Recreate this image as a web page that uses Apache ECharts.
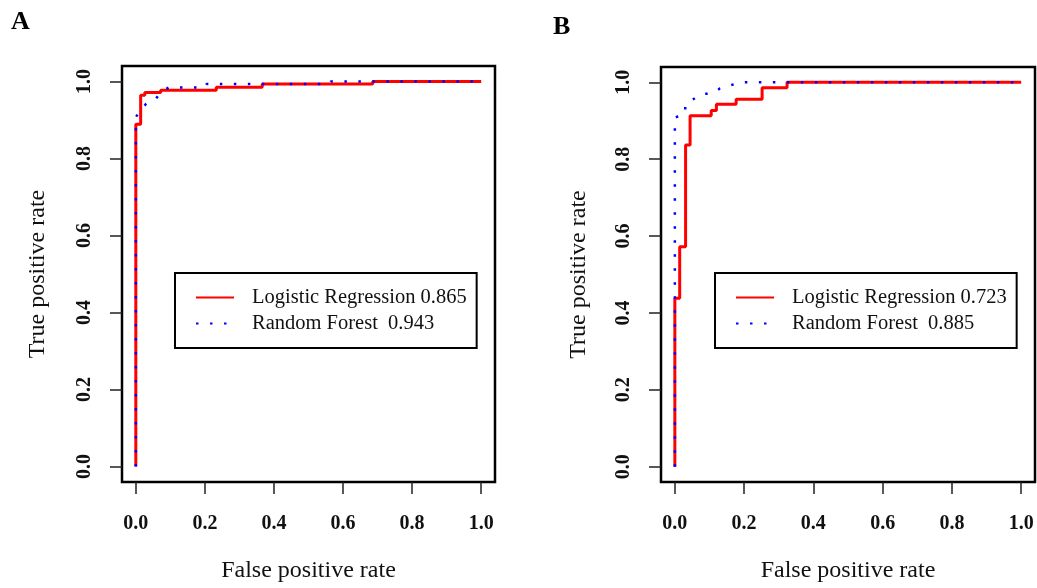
<!DOCTYPE html>
<html>
<head>
<meta charset="utf-8">
<script src="https://cdn.jsdelivr.net/npm/echarts@6/dist/echarts.min.js"></script>
<style>
  html, body { margin: 0; padding: 0; background: #fff; }
  #main { width: 1037px; height: 588px; }
</style>
</head>
<body>
<div id="main"></div>
<script>
// ROC curves, [false positive rate, true positive rate]
var lrA = [[0, 0], [0, 0.889], [0.014, 0.964], [0.026, 0.971], [0.072, 0.977],
           [0.233, 0.985], [0.366, 0.993], [0.686, 1], [1, 1]];
var rfA = [[0, 0], [0, 0.907], [0.013, 0.925], [0.03, 0.942], [0.058, 0.955],
           [0.072, 0.972], [0.095, 0.984], [0.2, 0.984], [0.205, 0.993],
           [0.56, 0.993], [0.565, 1], [1, 1]];
var lrB = [[0, 0], [0, 0.438], [0.014, 0.572], [0.031, 0.837], [0.044, 0.913],
           [0.105, 0.927], [0.12, 0.943], [0.177, 0.956], [0.252, 0.986],
           [0.324, 1], [1, 1]];
var rfB = [[0, 0], [0, 0.908], [0.03, 0.92], [0.03, 0.943], [0.053, 0.956],
           [0.075, 0.969], [0.11, 0.972], [0.13, 0.984], [0.163, 0.993],
           [0.19, 1], [1, 1]];
var ticks = [0, 0.2, 0.4, 0.6, 0.8, 1];
var namesA = ['Logistic Regression 0.865', 'Random Forest  0.943'];
var namesB = ['Logistic Regression 0.723', 'Random Forest  0.885'];
var panelLabels = ['A', 'B'];

var serif = 'Liberation Serif';

// R style axis: range padded by 4%, ticks only at 0..1, sitting on the box edge
function rAxis(grid, name, gap, margin) {
    return {
        type: 'value', gridIndex: grid, min: -0.04, max: 1.04,
        axisLine: {show: false, onZero: false},
        axisTick: {show: true, length: 12, customValues: ticks,
                   lineStyle: {color: '#222', width: 1.5}},
        splitLine: {show: false},
        axisLabel: {
            customValues: ticks,
            fontFamily: serif, fontWeight: 'bold', fontSize: 20, color: '#111',
            margin: margin,
            formatter: function (v) { return v.toFixed(1); }
        },
        name: name, nameLocation: 'middle', nameGap: gap,
        nameTextStyle: {fontFamily: serif, fontSize: 24, color: '#111'}
    };
}

var xa0 = rAxis(0, 'False positive rate', 77, 32);
var ya0 = rAxis(0, 'True positive rate', 72, 27);
ya0.axisLabel.rotate = 90;
var xa1 = rAxis(1, 'False positive rate', 77, 32);
var ya1 = rAxis(1, 'True positive rate', 70, 27);
ya1.axisLabel.rotate = 90;

function legendOf(names, left) {
    return {
        data: names, orient: 'vertical', left: left, top: 273,
        padding: [14, 10, 14, 20],
        borderColor: '#000', borderWidth: 2,
        itemWidth: 38, itemHeight: 10, itemGap: 5,
        itemStyle: {opacity: 0},
        textStyle: {fontFamily: serif, fontSize: 20.5, color: '#111', lineHeight: 20,
                    padding: [0, 0, 0, 13]}
    };
}

var option = {
    animation: false,
    backgroundColor: '#fff',
    title: [
        {text: panelLabels[0], left: 6, top: 4,
         textStyle: {fontFamily: serif, fontWeight: 'bold', fontSize: 26, color: '#000'}},
        {text: panelLabels[1], left: 548, top: 9,
         textStyle: {fontFamily: serif, fontWeight: 'bold', fontSize: 26, color: '#000'}}
    ],
    grid: [
        {left: 122, top: 66, width: 373, height: 417, show: true,
         borderColor: '#000', borderWidth: 2.5, backgroundColor: 'transparent'},
        {left: 661, top: 67, width: 374, height: 419, show: true,
         borderColor: '#000', borderWidth: 2.5, backgroundColor: 'transparent'}
    ],
    xAxis: [xa0, xa1],
    yAxis: [ya0, ya1],
    legend: [legendOf(namesA, 175), legendOf(namesB, 715)],
    series: [
        {name: namesA[0], type: 'line', xAxisIndex: 0, yAxisIndex: 0, data: lrA,
         step: 'end', symbol: 'none',
         itemStyle: {color: '#ff0000'}, lineStyle: {color: '#ff0000', width: 3}},
        {name: namesA[1], type: 'line', xAxisIndex: 0, yAxisIndex: 0, data: rfA,
         symbol: 'none',
         itemStyle: {color: '#0000ff'},
         lineStyle: {color: '#0000ff', width: 2.5, type: [2.5, 11.5]}},
        {name: namesB[0], type: 'line', xAxisIndex: 1, yAxisIndex: 1, data: lrB,
         step: 'end', symbol: 'none',
         itemStyle: {color: '#ff0000'}, lineStyle: {color: '#ff0000', width: 3}},
        {name: namesB[1], type: 'line', xAxisIndex: 1, yAxisIndex: 1, data: rfB,
         symbol: 'none',
         itemStyle: {color: '#0000ff'},
         lineStyle: {color: '#0000ff', width: 2.5, type: [2.5, 11.5]}}
    ]
};

var myChart = echarts.init(document.getElementById('main'));
myChart.setOption(option);
</script>
</body>
</html>
